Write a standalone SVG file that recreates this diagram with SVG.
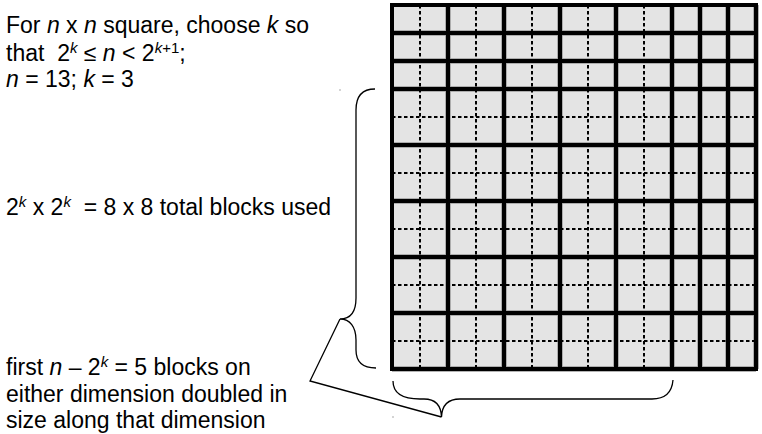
<svg xmlns="http://www.w3.org/2000/svg" width="762" height="434" viewBox="0 0 762 434">
<style>
.t{font-family:"Liberation Sans",Arial,sans-serif;font-size:23px;fill:#000}
.i{font-style:italic}
.s{font-size:15px}
.halo{stroke:#9a9a9a;stroke-width:5.5;fill:none}
.grid{stroke:#000;stroke-width:4;fill:none;stroke-linecap:square}
.dot{stroke:#000;stroke-width:2;stroke-dasharray:3.5 2.5;fill:none}
.brace{stroke:#000;stroke-width:1.3;fill:none}
</style>
<rect width="762" height="434" fill="#fff"/>
<g id="grid">
<rect x="392" y="5" width="364" height="364" fill="#e4e4e4"/>
<path class="halo" d="M448,5V369M504,5V369M560,5V369M616,5V369M672,5V369M700,5V369M728,5V369M392,33H756M392,61H756M392,89H756M392,145H756M392,201H756M392,257H756M392,313H756M392,369H756M756,5V369"/>
<path class="dot" d="M420,5V369M476,5V369M532,5V369M588,5V369M644,5V369M392,117H756M392,173H756M392,229H756M392,285H756M392,341H756"/>
<path class="grid" d="M448,5V369M504,5V369M560,5V369M616,5V369M672,5V369M700,5V369M728,5V369M392,33H756M392,61H756M392,89H756M392,145H756M392,201H756M392,257H756M392,313H756"/>
<rect class="grid" x="392" y="5" width="364" height="364"/>
</g>
<g id="label-choose">
<text class="t" x="6" y="33">For <tspan class="i">n</tspan> x <tspan class="i">n</tspan> square, choose <tspan class="i">k</tspan> so</text>
<text class="t" x="6" y="61">that &#160;2<tspan class="s i" dy="-8">k</tspan><tspan dy="8"> ≤ </tspan><tspan class="i">n</tspan> &lt; 2<tspan class="s" dy="-8"><tspan class="i">k</tspan>+1</tspan><tspan dy="8">;</tspan></text>
<text class="t" x="6" y="87"><tspan class="i">n</tspan> = 13; <tspan class="i">k</tspan> = 3</text>
</g>
<g id="label-total">
<text class="t" x="6" y="215">2<tspan class="s i" dy="-8">k</tspan><tspan dy="8"> x 2</tspan><tspan class="s i" dy="-8">k</tspan><tspan dy="8"> &#160;= 8 x 8 total blocks used</tspan></text>
</g>
<g id="label-doubled">
<text class="t" x="6" y="375">first <tspan class="i">n</tspan> – 2<tspan class="s i" dy="-8">k</tspan><tspan dy="8"> = 5 blocks on</tspan></text>
<text class="t" x="6" y="401.5">either dimension doubled in</text>
<text class="t" x="6" y="428">size along that dimension</text>
</g>
<g id="connectors">
<path class="brace" d="M375,89 C362,89 356,97 356,110 L356,298 C356,312 350,319 340,319 C350,319 356,327 356,340 L356,350 C356,362 362,368 376,368"/>
<path class="brace" d="M393,381 C393,393 402,399 420,399 L424,399 C435,399 441,405 441.5,417 C442,405 448,399 460,399 L652,399 C665,399 672,392 673,380"/>
<path class="brace" d="M340,319 L310,381 L441.5,417"/>
<rect x="339.5" y="89.5" width="1" height="1" fill="#555"/>
<rect x="392.5" y="416.5" width="1" height="1" fill="#555"/>
</g>
</svg>
